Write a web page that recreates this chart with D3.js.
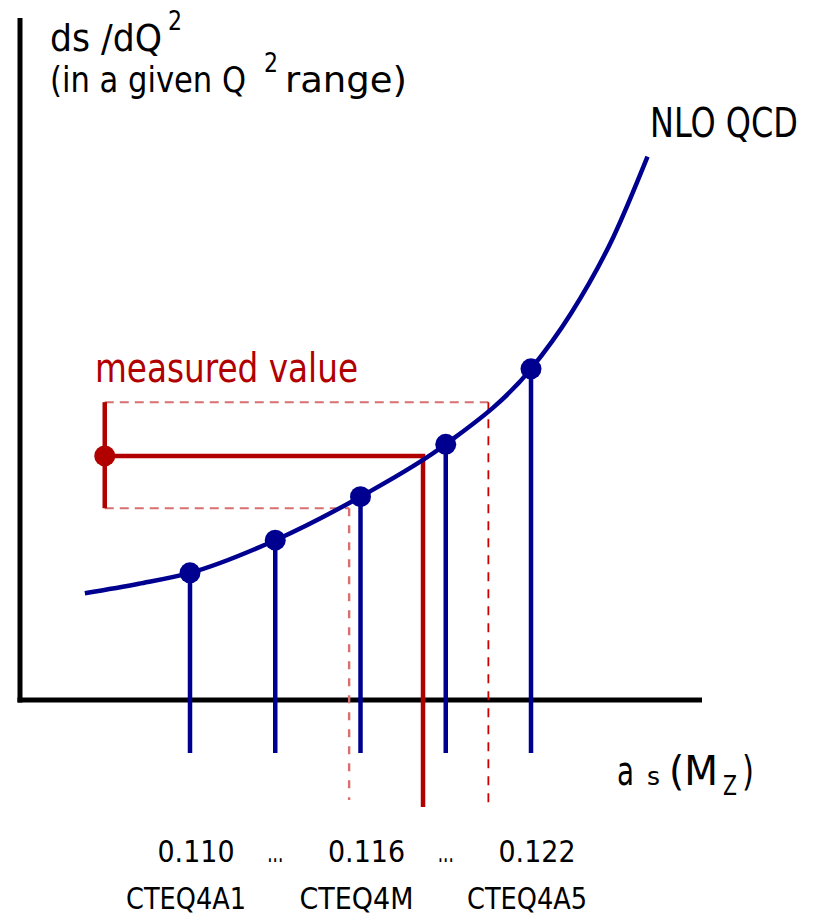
<!DOCTYPE html>
<html>
<head>
<meta charset="utf-8">
<script src="https://cdn.jsdelivr.net/npm/d3@7"></script>
<style>
  html, body { margin: 0; padding: 0; background: #fff; }
  svg { display: block; }
  text { font-family: "Liberation Sans Narrow", "DejaVu Sans Condensed", "Liberation Sans", sans-serif; }
</style>
</head>
<body>
<svg id="chart" width="823" height="917"></svg>
<script>
// alpha_s(M_Z) values of the PDF sets where the prediction is evaluated
const alphaPoints = [0.110, 0.113, 0.116, 0.119, 0.122];
const sigmaPoints = [18.7, 23.5, 29.9, 37.6, 48.7];

// NLO QCD prediction of ds/dQ^2 as a function of alpha_s
const curveAlpha = [0.1063, 0.1082, 0.110, 0.113, 0.116, 0.119, 0.122, 0.1234, 0.1249, 0.1261];
const curveSigma = [15.7, 17.1, 18.7, 23.5, 29.9, 37.6, 48.7, 56.8, 68.1, 79.9];

// measured cross section with its error band, and the alpha_s it maps to
const measuredSigma = 35.9;
const measuredErr = [28.2, 43.8];
const measuredAlpha = 0.1182;
const alphaRange = [0.1156, 0.1205];
const markerAlpha = 0.1070;

// labels under the axis
const tickAlpha = [0.110, 0.113, 0.116, 0.119, 0.122];
const tickLabels = ["0.110", "...", "0.116", "...", "0.122"];
const pdfAlpha = [0.110, 0.116, 0.122];
const pdfLabels = ["CTEQ4A1", "CTEQ4M", "CTEQ4A5"];

const BLUE = "#000090";
const RED = "#b00000";
const RED_LIGHT = "#d87070";

const svg = d3.select("#chart");

const x = d3.scaleLinear().domain([0.110, 0.122]).range([190, 531]);
const y = d3.scaleLinear().domain([0, 100]).range([700, 20]);
const y0 = y(0);

// axes: plain lines, no ticks
svg.append("line").attr("x1", 20).attr("y1", 18).attr("x2", 20).attr("y2", y0 + 2.5)
  .attr("stroke", "#000").attr("stroke-width", 5);
svg.append("line").attr("x1", 17.5).attr("y1", y0).attr("x2", 702).attr("y2", y0)
  .attr("stroke", "#000").attr("stroke-width", 5);

// dashed guides from the error band to the alpha_s range
svg.append("line")
  .attr("x1", x(markerAlpha)).attr("x2", x(alphaRange[1]))
  .attr("y1", y(measuredErr[1])).attr("y2", y(measuredErr[1]))
  .attr("stroke", RED_LIGHT).attr("stroke-width", 2).attr("stroke-dasharray", "9,6");
svg.append("line")
  .attr("x1", x(markerAlpha)).attr("x2", x(alphaRange[0]))
  .attr("y1", y(measuredErr[0])).attr("y2", y(measuredErr[0]))
  .attr("stroke", RED_LIGHT).attr("stroke-width", 2).attr("stroke-dasharray", "9,6");
svg.append("line")
  .attr("x1", x(alphaRange[0])).attr("x2", x(alphaRange[0]))
  .attr("y1", y(measuredErr[0])).attr("y2", y0 + 100)
  .attr("stroke", RED_LIGHT).attr("stroke-width", 2.4).attr("stroke-dasharray", "8,9");
svg.append("line")
  .attr("x1", x(alphaRange[1])).attr("x2", x(alphaRange[1]))
  .attr("y1", y(measuredErr[1])).attr("y2", y0 + 107)
  .attr("stroke", "#cc0000").attr("stroke-width", 1.8).attr("stroke-dasharray", "9,8");

// stems from each prediction point down below the axis
svg.append("g").selectAll("line").data(alphaPoints).join("line")
  .attr("x1", d => x(d)).attr("x2", d => x(d))
  .attr("y1", (d, i) => y(sigmaPoints[i])).attr("y2", y0 + 53)
  .attr("stroke", BLUE).attr("stroke-width", 4.5);

// measured value: error bar, level line and the projection onto the alpha_s axis
svg.append("line")
  .attr("x1", x(markerAlpha)).attr("x2", x(markerAlpha))
  .attr("y1", y(measuredErr[1])).attr("y2", y(measuredErr[0]))
  .attr("stroke", RED).attr("stroke-width", 4.5);
svg.append("path")
  .attr("d", d3.line()([[x(markerAlpha), y(measuredSigma)], [x(measuredAlpha), y(measuredSigma)], [x(measuredAlpha), y0 + 107]]))
  .attr("fill", "none").attr("stroke", RED).attr("stroke-width", 4.5).attr("stroke-linejoin", "miter");
svg.append("circle").attr("cx", x(markerAlpha)).attr("cy", y(measuredSigma)).attr("r", 10.5).attr("fill", RED);

// prediction curve
const line = d3.line().x(d => x(d[0])).y(d => y(d[1])).curve(d3.curveMonotoneX);
svg.append("path")
  .attr("d", line(curveAlpha.map((a, i) => [a, curveSigma[i]])))
  .attr("fill", "none").attr("stroke", BLUE).attr("stroke-width", 4.5);

svg.append("g").selectAll("circle").data(alphaPoints).join("circle")
  .attr("cx", d => x(d)).attr("cy", (d, i) => y(sigmaPoints[i])).attr("r", 10.5).attr("fill", BLUE);

// text
function label(str, px, py, size, len, color) {
  const t = svg.append("text").attr("x", px).attr("y", py)
    .attr("font-size", size).attr("fill", color || "#000").text(str);
  if (len) t.attr("textLength", len).attr("lengthAdjust", "spacingAndGlyphs");
  return t;
}

label("ds /dQ", 50, 51, 38, 112);
label("2", 168, 30, 26, 14);
label("(in a given Q", 50, 92, 36, 196);
label("2", 264, 72, 26, 14);
label("range)", 285, 92, 36, 122);

label("NLO QCD", 650, 137, 40, 148);
label("measured value", 95, 382, 40, 263, RED);

label("a", 617, 785, 40, 17);
label("s", 647, 785, 24, 13);
label("(M", 669, 785, 40, 49);
label("Z", 723, 795, 26, 14);
label(")", 742, 785, 40, 12);

svg.append("g").selectAll("text").data(tickLabels).join("text")
  .attr("x", (d, i) => x(tickAlpha[i]) + (d === "..." ? 0 : 6))
  .attr("y", 862).attr("text-anchor", "middle")
  .attr("font-size", 31).text(d => d)
  .attr("textLength", d => d === "..." ? 16 : 77).attr("lengthAdjust", "spacingAndGlyphs");

svg.append("g").selectAll("text").data(pdfLabels).join("text")
  .attr("x", (d, i) => x(pdfAlpha[i]) - 4)
  .attr("y", 909).attr("text-anchor", "middle")
  .attr("font-size", 30).text(d => d)
  .attr("textLength", d => d === "CTEQ4M" ? 114 : 120).attr("lengthAdjust", "spacingAndGlyphs");
</script>
</body>
</html>
